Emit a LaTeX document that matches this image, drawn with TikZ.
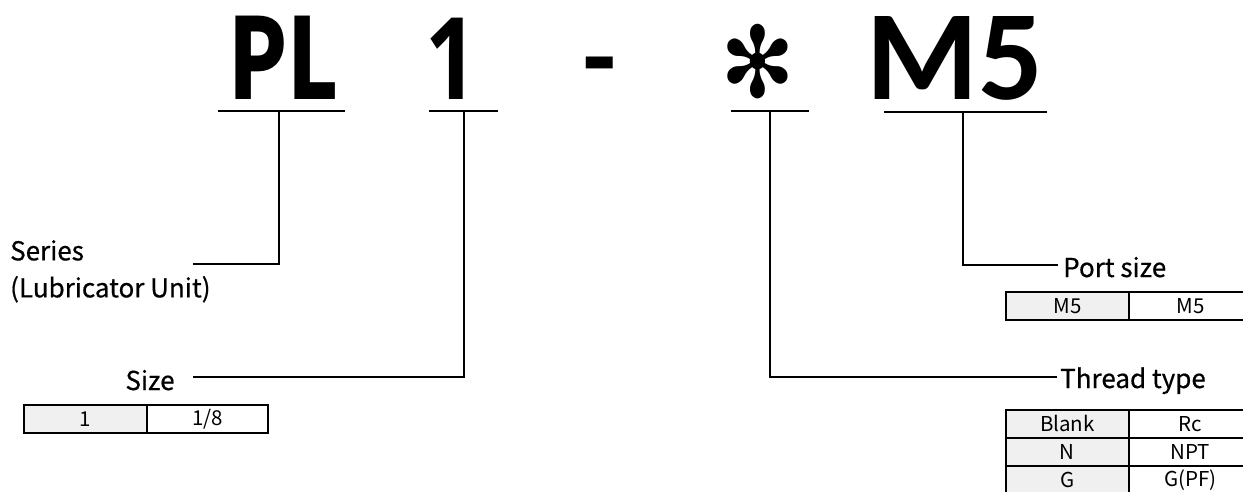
\documentclass[tikz,border=0pt]{standalone}
\usepackage{fontspec}
\setmainfont{Noto Sans CJK KR}
\newfontfamily\carl{Carlito}
\newfontfamily\onefont{Open Sans}
\newfontfamily\symfont{DejaVu Sans}
\newfontfamily\lblfont[FakeBold=0.6]{Noto Sans CJK KR}
\begin{document}
\begin{tikzpicture}[x=1pt,y=-1pt,
  code/.style={inner sep=0pt, anchor=base, font=\fontsize{112}{112}\selectfont\bfseries},
  uline/.style={line width=2.2pt},
  conn/.style={line width=1.3pt},
  lbl/.style={inner sep=0pt, font=\fontsize{26}{37}\selectfont\lblfont},
  cellg/.style={draw, line width=1.8pt, fill=black!6, minimum width=123pt, minimum height=28pt, inner sep=0pt, font=\fontsize{20.5}{20}\selectfont},
  cellw/.style={cellg, fill=white}
]
\useasboundingbox (0,0) rectangle (1243,492);
\clip (0,0) rectangle (1243,492);

% code letters
\node[code] (pl) at (283.5,100) {\scalebox{0.77}[1]{PL}};
\node[code, font=\fontsize{114}{114}\selectfont\onefont\bfseries] (one) at (452,100) {\scalebox{0.8}[1]{1}};
\node[code] (dash) at (600,91) {\scalebox{0.85}[0.85]{-}};
\node[inner sep=0pt, anchor=center, font=\fontsize{94}{94}\selectfont\symfont] (ast) at (758,62) {\scalebox{0.95}[1.05]{✻}};
\node[code, font=\fontsize{128}{128}\selectfont\carl\bfseries] (m5) at (955,100) {M5};

% underlines
\coordinate (plL) at (218,111); \coordinate (plR) at (345,111);
\coordinate (oneL) at (429,111); \coordinate (oneR) at (498,111);
\coordinate (astL) at (731,111); \coordinate (astR) at (809,111);
\coordinate (m5L) at (884,112); \coordinate (m5R) at (1047,112);
\draw[uline] (plL) -- (plR);
\draw[uline] (oneL) -- (oneR);
\draw[uline] (astL) -- (astR);
\draw[uline] (m5L) -- (m5R);

% labels
\node[lbl, anchor=north west, align=left] (series) at (10,240) {Series\\(Lubricator Unit)};
\node[lbl, anchor=base] (size) at (150,390) {Size};
\node[lbl, anchor=base west] (port) at (1063,277) {Port size};
\node[lbl, anchor=base west] (thread) at (1060,388) {Thread type};

% connector ends
\coordinate (plT) at (279,111);
\coordinate (seriesE) at (193,264);
\coordinate (oneT) at (464,111);
\coordinate (sizeE) at (193,377);
\coordinate (astT) at (770,111);
\coordinate (threadE) at (1057,377);
\coordinate (m5T) at (963,112);
\coordinate (portE) at (1058,265);

\draw[conn] (plT) |- (seriesE);
\draw[conn] (oneT) |- (sizeE);
\draw[conn] (astT) |- (threadE);
\draw[conn] (m5T) |- (portE);

% size table
\node[cellg, anchor=north west] (s1a) at (23,404) {1};
\node[cellw, anchor=north west, minimum width=121pt] (s1b) at (146,404) {1/8};

% port table
\node[cellg, anchor=north west] (p1a) at (1005,291) {M5};
\node[cellw, anchor=north west] (p1b) at (1128,291) {M5};

% thread table
\node[cellg, anchor=north west] (t1a) at (1005,409) {Blank};
\node[cellw, anchor=north west] (t1b) at (1128,409) {Rc};
\node[cellg, anchor=north west] (t2a) at (1005,437) {N};
\node[cellw, anchor=north west] (t2b) at (1128,437) {NPT};
\node[cellg, anchor=north west] (t3a) at (1005,465) {G};
\node[cellw, anchor=north west] (t3b) at (1128,465) {G(PF)};
\end{tikzpicture}
\end{document}
